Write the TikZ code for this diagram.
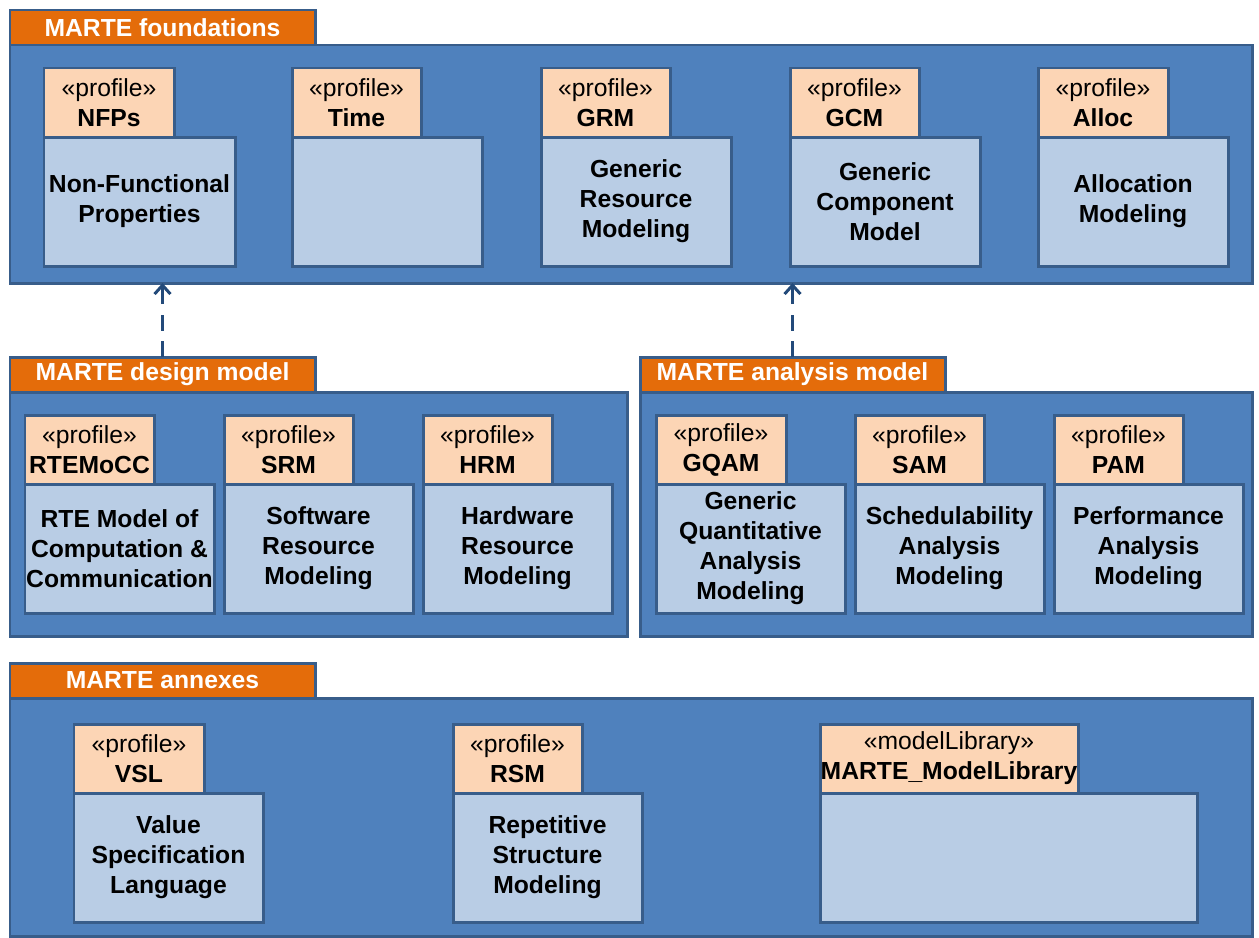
\documentclass[tikz,border=0pt]{standalone}
\usepackage{fontspec}
\setmainfont{Liberation Sans}
\usetikzlibrary{arrows.meta}

\definecolor{grpfill}{HTML}{4F81BD}
\definecolor{grpline}{HTML}{385D8A}
\definecolor{tabfill}{HTML}{E46C0A}
\definecolor{peach}{HTML}{FCD5B5}
\definecolor{paleblue}{HTML}{B9CDE5}
\definecolor{deparrow}{HTML}{234A7A}

% one drawing unit
\newcommand\pu{0.567pt}

\tikzset{
  txt/.style={font=\fontsize{14pt}{17pt}\selectfont, align=center, inner sep=0pt, outer sep=0pt},
  grpbox/.style={draw=grpline, fill=grpfill, line width=1.7pt, anchor=north west, inner sep=0pt, outer sep=0pt},
  grptab/.style={draw=grpline, fill=tabfill, line width=1.7pt, anchor=north west, txt, text=white,
                 font=\fontsize{14pt}{17pt}\selectfont\bfseries},
  ptab/.style={draw=grpline, fill=peach, line width=1.7pt, anchor=north west, txt, minimum height=69*\pu},
  pbody/.style={draw=grpline, fill=paleblue, line width=1.7pt, anchor=north west, txt,
                font=\fontsize{14pt}{17pt}\selectfont\bfseries, minimum height=129*\pu},
  depend/.style={draw=deparrow, line width=1.7pt, dash pattern=on 9pt off 6pt,
                 -{Straight Barb[length=5pt,width=9pt,line width=1.7pt]}}
}

% #1 id, #2 x, #3 y, #4 tab width, #5 body width, #6 stereotype, #7 name, #8 body text
\newcommand\pkgnode[8]{%
  \node[ptab, minimum width=#4*\pu] (#1tab) at (#2,#3) {«#6»\\\textbf{#7}};
  \node[pbody, minimum width=#5*\pu] (#1body) at (#2,#3+69) {#8};
}

% #1 id, #2 x, #3 y, #4 box width, #5 box height, #6 title
\newcommand\grpnode[6]{%
  \node[grpbox, minimum width=#4*\pu, minimum height=#5*\pu] (#1) at (#2,#3+35) {};
  \node[grptab, minimum width=305*\pu, minimum height=35*\pu] (#1tab) at (#2,#3) {#6};
}

\begin{document}
\begin{tikzpicture}[x=0.567pt, y=-0.567pt]
\useasboundingbox (0,0) rectangle (1259,938);

% groups
\grpnode{found}{10}{10}{1242}{238}{MARTE foundations}
\grpnode{design}{10}{357}{617}{244}{MARTE design model}
\grpnode{analysis}{640}{357}{612}{244}{MARTE analysis model}
\grpnode{annex}{10}{663}{1242}{238}{MARTE annexes}

% foundations
\pkgnode{nfp}{44}{68}{130}{191}{profile}{NFPs}{Non-Functional\\Properties}
\pkgnode{time}{292}{68}{129}{190}{profile}{Time}{}
\pkgnode{grm}{541}{68}{129}{190}{profile}{GRM}{Generic\\Resource\\Modeling}
\pkgnode{gcm}{790}{68}{129}{190}{profile}{GCM}{Generic\\Component\\Model}
\pkgnode{alloc}{1038}{68}{130}{190}{profile}{Alloc}{Allocation\\Modeling}

% design model
\pkgnode{rte}{25}{415}{129}{189}{profile}{RTEMoCC}{RTE Model of\\Computation \&\\Communication}
\pkgnode{srm}{224}{415}{129}{189}{profile}{SRM}{Software\\Resource\\Modeling}
\pkgnode{hrm}{423}{415}{129}{189}{profile}{HRM}{Hardware\\Resource\\Modeling}

% analysis model
\pkgnode{gqam}{656}{415}{130}{189}{profile}{GQAM}{Generic\\Quantitative\\Analysis\\Modeling}
\pkgnode{sam}{855}{415}{129}{189}{profile}{SAM}{Schedulability\\Analysis\\Modeling}
\pkgnode{pam}{1054}{415}{129}{189}{profile}{PAM}{Performance\\Analysis\\Modeling}

% annexes
\pkgnode{vsl}{74}{724}{130}{189}{profile}{VSL}{Value\\Specification\\Language}
\pkgnode{rsm}{453}{724}{129}{189}{profile}{RSM}{Repetitive\\Structure\\Modeling}
\pkgnode{lib}{820}{724}{258}{377}{modelLibrary}{MARTE\_ModelLibrary}{}

% dependencies
\draw[depend] (designtab.north) -- (designtab.north |- found.south);
\draw[depend] (analysistab.north) -- (analysistab.north |- found.south);
\end{tikzpicture}
\end{document}
